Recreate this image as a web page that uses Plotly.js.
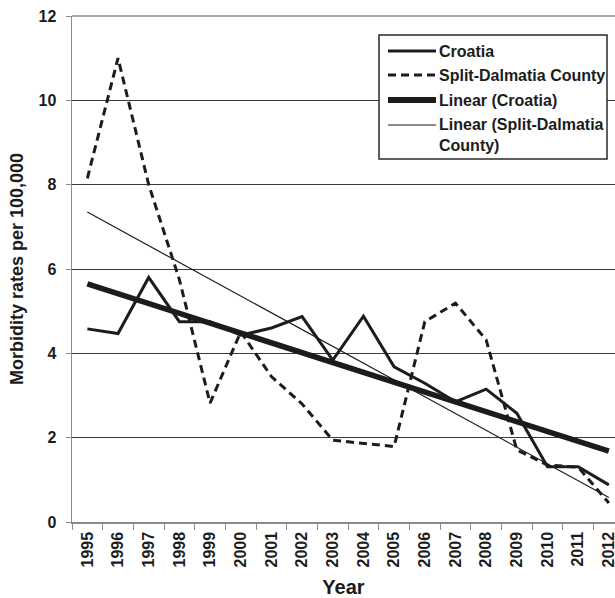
<!DOCTYPE html>
<html>
<head>
<meta charset="utf-8">
<script src="https://cdn.plot.ly/plotly-3.0.1.min.js"></script>
<style>html,body{margin:0;padding:0;background:#fff;}#chart{width:615px;height:598px;}</style>
</head>
<body>
<div id="chart"></div>
<script>
// ---- data ----
var years = ['1995','1996','1997','1998','1999','2000','2001','2002','2003','2004','2005','2006','2007','2008','2009','2010','2011','2012'];
var croatia = [4.58, 4.47, 5.80, 4.75, 4.75, 4.43, 4.60, 4.87, 3.84, 4.88, 3.68, 3.29, 2.85, 3.15, 2.58, 1.31, 1.31, 0.88];
var splitDalmatia = [8.15, 11.0, 8.0, 5.75, 2.82, 4.51, 3.45, 2.80, 1.94, 1.87, 1.79, 4.75, 5.19, 4.32, 1.71, 1.35, 1.30, 0.45];
var trendYears = ['1995','2012'];
var trendCroatia = [5.65, 1.68];
var trendSplit = [7.35, 0.58];
var legendLabels = ['Croatia','Split-Dalmatia County','Linear (Croatia)','Linear (Split-Dalmatia<br>County)'];

var ink = '#1c1c1c';
var font = 'Liberation Sans, Arial, sans-serif';

var traces = [
  {x: years, y: croatia, type: 'scatter', mode: 'lines', line: {color: ink, width: 3}, showlegend: false},
  {x: years, y: splitDalmatia, type: 'scatter', mode: 'lines', line: {color: ink, width: 3, dash: '8px,5px'}, showlegend: false},
  {x: trendYears, y: trendCroatia, type: 'scatter', mode: 'lines', line: {color: ink, width: 5.5}, showlegend: false},
  {x: trendYears, y: trendSplit, type: 'scatter', mode: 'lines', line: {color: ink, width: 1.2}, showlegend: false}
];

// pixel -> paper helpers for the hand-drawn legend box
var L = 72, R = 615, T = 16, B = 522;
function PX(px){ return (px - L) / (R - L); }
function PY(py){ return (B - py) / (B - T); }

var rows = [51, 75, 100, 125];
var styles = [
  {width: 3, dash: 'solid'},
  {width: 3, dash: '8px,5px'},
  {width: 6, dash: 'solid'},
  {width: 1.2, dash: 'solid'}
];
var shapes = [
  {type: 'line', xref: 'paper', yref: 'paper', x0: 0, x1: 1, y0: 1, y1: 1,
   line: {color: '#8a8a8a', width: 1.5}, layer: 'above'},
  {type: 'rect', xref: 'paper', yref: 'paper', x0: PX(379), x1: PX(607), y0: PY(159), y1: PY(35),
   line: {color: '#2a2a2a', width: 1.5}, fillcolor: '#ffffff', layer: 'above'}
];
var annotations = [];
for (var i = 0; i < legendLabels.length; i++) {
  shapes.push({type: 'line', xref: 'paper', yref: 'paper', x0: PX(388), x1: PX(436), y0: PY(rows[i]), y1: PY(rows[i]),
    line: {color: ink, width: styles[i].width, dash: styles[i].dash}, layer: 'above'});
  var multi = legendLabels[i].indexOf('<br>') >= 0;
  annotations.push({xref: 'paper', yref: 'paper', x: PX(437), y: multi ? PY(rows[i] - 11) : PY(rows[i]),
    xanchor: 'left', yanchor: multi ? 'top' : 'middle', align: 'left', showarrow: false,
    text: '<b>' + legendLabels[i] + '</b>', font: {family: font, size: 16, color: ink}});
}

var layout = {
  width: 615, height: 598,
  margin: {l: L, r: 615 - R, t: T, b: 598 - B, pad: 0},
  paper_bgcolor: '#ffffff', plot_bgcolor: '#ffffff',
  showlegend: false,
  xaxis: {
    type: 'category', range: [-0.5, 17.2],
    showgrid: false, zeroline: false,
    showline: true, linecolor: '#8a8a8a', linewidth: 1.5,
    ticks: 'outside', tickson: 'boundaries', ticklen: 6, tickcolor: '#8a8a8a', tickwidth: 1,
    tickangle: -90, ticklabelstandoff: 2,
    tickfont: {family: font, size: 16, color: ink, weight: 'bold'},
    title: {text: '<b>Year</b>', font: {family: font, size: 20, color: ink}, standoff: 15}
  },
  yaxis: {
    range: [0, 12], dtick: 2, tick0: 0,
    showgrid: true, gridcolor: '#3a3a3a', gridwidth: 1,
    zeroline: false,
    showline: true, linecolor: '#8a8a8a', linewidth: 1.5,
    ticks: 'outside', ticklen: 5, tickcolor: '#8a8a8a',
    ticklabelstandoff: 6,
    tickfont: {family: font, size: 16, color: ink, weight: 'bold'},
    title: {text: '<b>Morbidity rates per 100,000</b>', font: {family: font, size: 18, color: ink}, standoff: 10}
  },
  shapes: shapes,
  annotations: annotations
};

Plotly.newPlot('chart', traces, layout, {displayModeBar: false, staticPlot: true});
</script>
</body>
</html>
